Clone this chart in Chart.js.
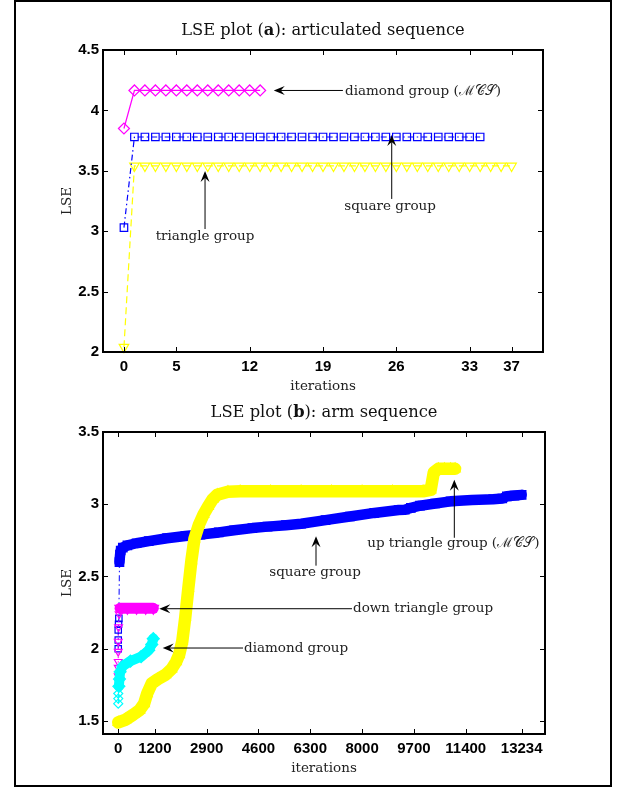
<!DOCTYPE html>
<html>
<head>
<meta charset="utf-8">
<script src="https://cdn.jsdelivr.net/npm/chart.js@4.4.0/dist/chart.umd.min.js"></script>
<style>
  html, body { margin: 0; padding: 0; background: #fff; }
  #page { position: relative; width: 621px; height: 789px; }
  #frame { position: absolute; left: 14px; top: 0; width: 594px; height: 783px; border: 2px solid #000; }
  canvas { position: absolute; left: 0; }
</style>
</head>
<body>
<div id="page">
  <div id="frame"></div>
  <canvas id="chartA" width="621" height="395" style="top:0"></canvas>
  <canvas id="chartB" width="621" height="394" style="top:395px"></canvas>
</div>
<script>
/*---------------DATA (a): articulated sequence-------------------------- */
const diamondIterA = [0, 1, 2, 3, 4, 5, 6, 7, 8, 9, 10, 11, 12, 13];
const diamondLseA  = [3.85, 4.165, 4.165, 4.165, 4.165, 4.165, 4.165, 4.165, 4.165, 4.165, 4.165, 4.165, 4.165, 4.165];
const squareIterA  = [0, 1, 2, 3, 4, 5, 6, 7, 8, 9, 10, 11, 12, 13, 14, 15, 16, 17, 18, 19, 20, 21, 22, 23, 24, 25, 26, 27, 28, 29, 30, 31, 32, 33, 34];
const squareLseA   = [3.03, 3.78, 3.78, 3.78, 3.78, 3.78, 3.78, 3.78, 3.78, 3.78, 3.78, 3.78, 3.78, 3.78, 3.78, 3.78, 3.78, 3.78, 3.78, 3.78, 3.78, 3.78, 3.78, 3.78, 3.78, 3.78, 3.78, 3.78, 3.78, 3.78, 3.78, 3.78, 3.78, 3.78, 3.78];
const triangleIterA = [0, 1, 2, 3, 4, 5, 6, 7, 8, 9, 10, 11, 12, 13, 14, 15, 16, 17, 18, 19, 20, 21, 22, 23, 24, 25, 26, 27, 28, 29, 30, 31, 32, 33, 34, 35, 36, 37];
const triangleLseA  = [2.04, 3.54, 3.54, 3.54, 3.54, 3.54, 3.54, 3.54, 3.54, 3.54, 3.54, 3.54, 3.54, 3.54, 3.54, 3.54, 3.54, 3.54, 3.54, 3.54, 3.54, 3.54, 3.54, 3.54, 3.54, 3.54, 3.54, 3.54, 3.54, 3.54, 3.54, 3.54, 3.54, 3.54, 3.54, 3.54, 3.54, 3.54];
const xTicksA = [0, 5, 12, 19, 26, 33, 37];
const yTicksA = [2, 2.5, 3, 3.5, 4, 4.5];

/*---------------DATA (b): arm sequence-------------------------- */
const upIterB = [0, 250, 500, 700, 850, 950, 1100, 1300, 1550, 1750, 1900, 2000, 2100, 2200, 2300, 2400, 2500, 2650, 2800, 2950, 3100, 3250, 3600, 4000, 5000, 6000, 7000, 8000, 9000, 10000, 10250, 10350, 10500, 10700, 10900, 11050];
const upLseB  = [1.49, 1.51, 1.545, 1.575, 1.62, 1.69, 1.76, 1.79, 1.82, 1.86, 1.91, 1.96, 2.05, 2.22, 2.42, 2.61, 2.76, 2.86, 2.93, 2.985, 3.035, 3.066, 3.087, 3.09, 3.09, 3.09, 3.09, 3.09, 3.09, 3.09, 3.10, 3.22, 3.245, 3.245, 3.245, 3.245];
const squareIterB = [0, 0, 0, 10, 20, 40, 60, 80, 150, 300, 600, 1000, 1600, 2200, 2700, 3300, 3800, 4400, 4900, 5500, 6000, 6800, 7600, 8400, 9200, 9400, 9600, 9900, 10400, 10900, 11600, 12300, 12600, 12750, 13000, 13234];
const squareLseB  = [2.0, 2.06, 2.13, 2.17, 2.21, 2.60, 2.65, 2.68, 2.70, 2.715, 2.73, 2.745, 2.765, 2.78, 2.79, 2.805, 2.82, 2.835, 2.845, 2.855, 2.865, 2.89, 2.915, 2.94, 2.96, 2.962, 2.975, 2.99, 3.005, 3.02, 3.03, 3.035, 3.04, 3.055, 3.06, 3.065];
const downIterB = [0, 0, 0, 0, 0, 10, 30, 60, 300, 600, 900, 1150];
const downLseB  = [1.81, 1.87, 1.91, 1.98, 2.05, 2.15, 2.24, 2.28, 2.28, 2.28, 2.28, 2.28];
const diamondIterB = [0, 0, 0, 20, 40, 60, 150, 400, 750, 1000, 1100, 1150];
const diamondLseB  = [1.62, 1.655, 1.69, 1.74, 1.79, 1.84, 1.88, 1.915, 1.945, 1.99, 2.03, 2.07];
const xTicksB = [0, 1200, 2900, 4600, 6300, 8000, 9700, 11400, 13234];
const yTicksB = [1.5, 2, 2.5, 3, 3.5];

const MCS = '\u2133\uD835\uDC9E\uD835\uDCAE';
const SERIF = '"DejaVu Serif", serif';

function pts(xs, ys) { return xs.map((x, i) => ({ x: x, y: ys[i] })); }

/*---------------PLUGINS-------------------------- */
// matlab style box with inward ticks
const boxPlugin = {
  id: 'box',
  afterDatasetsDraw(chart) {
    const { ctx, chartArea: a, scales: { x, y } } = chart;
    ctx.save();
    ctx.strokeStyle = '#000';
    ctx.lineWidth = 1;
    ctx.beginPath();
    x.ticks.forEach(t => {
      const px = Math.round(x.getPixelForValue(t.value)) + 0.5;
      ctx.moveTo(px, a.top); ctx.lineTo(px, a.top + 5);
      ctx.moveTo(px, a.bottom); ctx.lineTo(px, a.bottom - 5);
    });
    y.ticks.forEach(t => {
      const py = Math.round(y.getPixelForValue(t.value)) + 0.5;
      ctx.moveTo(a.left, py); ctx.lineTo(a.left + 5, py);
      ctx.moveTo(a.right, py); ctx.lineTo(a.right - 5, py);
    });
    ctx.stroke();
    ctx.lineWidth = 2;
    ctx.strokeRect(a.left, a.top, a.right - a.left, a.bottom - a.top);
    ctx.restore();
  }
};

function drawArrow(ctx, x0, y0, x1, y1) {
  const ang = Math.atan2(y1 - y0, x1 - x0);
  const L = 11, W = 4.5, N = 7;
  ctx.beginPath();
  ctx.moveTo(x0, y0);
  ctx.lineTo(x1 - Math.cos(ang) * N, y1 - Math.sin(ang) * N);
  ctx.stroke();
  ctx.save();
  ctx.translate(x1, y1);
  ctx.rotate(ang);
  ctx.beginPath();
  ctx.moveTo(0, 0); ctx.lineTo(-L, -W); ctx.lineTo(-N, 0); ctx.lineTo(-L, W);
  ctx.closePath();
  ctx.fill();
  ctx.restore();
}

// title with bold letter + arrows with notes
function notesPlugin(titleParts, titleY, notes) {
  return {
    id: 'notes',
    afterDraw(chart) {
      const { ctx, chartArea: a, scales: { x, y } } = chart;
      ctx.save();
      ctx.fillStyle = '#111';
      ctx.textBaseline = 'middle';
      // title
      const fonts = titleParts.map(p => (p[1] ? 'bold ' : '') + '16.3px ' + SERIF);
      let total = 0;
      titleParts.forEach((p, i) => { ctx.font = fonts[i]; total += ctx.measureText(p[0]).width; });
      let cx = (a.left + a.right) / 2 - total / 2;
      ctx.textAlign = 'left';
      titleParts.forEach((p, i) => {
        ctx.font = fonts[i];
        ctx.fillText(p[0], cx, titleY);
        cx += ctx.measureText(p[0]).width;
      });
      // notes
      ctx.strokeStyle = '#000';
      ctx.fillStyle = '#000';
      ctx.lineWidth = 1;
      notes.forEach(n => {
        drawArrow(ctx, x.getPixelForValue(n.from[0]), y.getPixelForValue(n.from[1]),
                       x.getPixelForValue(n.to[0]), y.getPixelForValue(n.to[1]));
      });
      ctx.fillStyle = '#222';
      ctx.font = '13.5px ' + SERIF;
      notes.forEach(n => {
        ctx.textAlign = n.align;
        ctx.fillText(n.text, x.getPixelForValue(n.tx), y.getPixelForValue(n.ty));
      });
      ctx.restore();
    }
  };
}

function axes(xMin, xMax, xTicks, yMin, yMax, yTicks, yWidth, xHeight, xTitlePad, yTitlePad) {
  const tickFont = { family: '"Liberation Sans", Arial, sans-serif', size: 15, weight: 'bold' };
  const titleFont = { family: SERIF, size: 13.5 };
  return {
    x: {
      type: 'linear', position: 'bottom', min: xMin, max: xMax,
      grid: { display: false, drawTicks: false },
      border: { display: false },
      afterBuildTicks: s => { s.ticks = xTicks.map(v => ({ value: v })); },
      afterFit: s => { s.height = xHeight; },
      ticks: { autoSkip: false, maxRotation: 0, padding: 6, color: '#000', font: tickFont, callback: v => String(v) },
      title: { display: true, text: 'iterations', color: '#222', font: titleFont, padding: { top: 0, bottom: xTitlePad } }
    },
    y: {
      type: 'linear', min: yMin, max: yMax,
      grid: { display: false, drawTicks: false },
      border: { display: false },
      afterBuildTicks: s => { s.ticks = yTicks.map(v => ({ value: v })); },
      afterFit: s => { s.width = yWidth; },
      ticks: { padding: 4, color: '#000', font: tickFont, callback: v => String(v) },
      title: { display: true, text: 'LSE', color: '#222', font: titleFont, padding: { top: yTitlePad, bottom: 0 } }
    }
  };
}

/*---------------CHART (a)-------------------------- */
new Chart(document.getElementById('chartA'), {
  type: 'line',
  data: {
    datasets: [{
      label: 'diamond group (MCS)',
      data: pts(diamondIterA, diamondLseA),
      borderColor: '#ff00ff', backgroundColor: 'rgba(0,0,0,0)',
      borderWidth: 1.2, pointStyle: 'rectRot', pointRadius: 5.5, pointBorderWidth: 1.2
    }, {
      label: 'square group',
      data: pts(squareIterA, squareLseA),
      borderColor: '#0000ff', backgroundColor: 'rgba(0,0,0,0)',
      borderWidth: 1.2, borderDash: [6, 3, 1.5, 3], pointStyle: 'rect', pointRadius: 5.3, pointBorderWidth: 1.2
    }, {
      label: 'triangle group',
      data: pts(triangleIterA, triangleLseA),
      borderColor: '#ffff00', backgroundColor: 'rgba(0,0,0,0)',
      borderWidth: 1.2, borderDash: [7, 4], pointStyle: 'triangle', pointRotation: 180, pointRadius: 5.5, pointBorderWidth: 1.2
    }]
  },
  options: {
    responsive: false, animation: false, devicePixelRatio: 1,
    layout: { padding: { top: 50, right: 78, bottom: 0, left: 0 } },
    datasets: { line: { clip: false, tension: 0 } },
    plugins: { legend: { display: false }, tooltip: { enabled: false } },
    scales: axes(-2, 40, xTicksA, 2, 4.5, yTicksA, 103, 43, 0, 59)
  },
  plugins: [boxPlugin, notesPlugin(
    [['LSE plot (', false], ['a', true], ['): articulated sequence', false]], 31,
    [
      { text: 'diamond group (' + MCS + ')', tx: 21.1, ty: 4.16, align: 'left', from: [20.9, 4.165], to: [14.3, 4.165] },
      { text: 'square group', tx: 25.4, ty: 3.204, align: 'center', from: [25.56, 3.267], to: [25.56, 3.796] },
      { text: 'triangle group', tx: 7.74, ty: 2.955, align: 'center', from: [7.74, 3.018], to: [7.74, 3.498] }
    ])]
});

/*---------------CHART (b)-------------------------- */
function bandSet(label, xs, ys, color, style, rot, denseFrom, dash, width, order) {
  return {
    label: label, data: pts(xs, ys), order: order,
    borderColor: color, backgroundColor: color,
    borderWidth: 1, borderDash: dash, borderJoinStyle: 'round',
    pointStyle: style, pointRotation: rot, pointBorderWidth: 1.2,
    pointRadius: c => (c.dataIndex >= denseFrom ? 6 : 4.5),
    pointBackgroundColor: c => (c.dataIndex >= denseFrom ? color : 'rgba(0,0,0,0)'),
    segment: {
      borderWidth: c => (c.p0DataIndex >= denseFrom ? width : 1),
      borderDash: c => (c.p0DataIndex >= denseFrom ? [] : dash),
      borderCapStyle: c => (c.p0DataIndex >= denseFrom ? 'round' : 'butt')
    }
  };
}

new Chart(document.getElementById('chartB'), {
  type: 'line',
  data: {
    datasets: [
      bandSet('up triangle group (MCS)', upIterB, upLseB, '#ffff00', 'triangle', 0, 0, [7, 4], 12.5, 0),
      bandSet('diamond group', diamondIterB, diamondLseB, '#00ffff', 'rectRot', 0, 3, [], 10, 1),
      bandSet('down triangle group', downIterB, downLseB, '#ff00ff', 'triangle', 180, 7, [1.5, 3], 11, 2),
      bandSet('square group', squareIterB, squareLseB, '#0000ff', 'rect', 0, 5, [6, 3, 1.5, 3], 10.5, 3)
    ]
  },
  options: {
    responsive: false, animation: false, devicePixelRatio: 1,
    layout: { padding: { top: 37, right: 76, bottom: 0, left: 0 } },
    datasets: { line: { clip: false, tension: 0 } },
    plugins: { legend: { display: false }, tooltip: { enabled: false } },
    scales: axes(-500, 14000, xTicksB, 1.41, 3.5, yTicksB, 103, 55, 12, 59)
  },
  plugins: [boxPlugin, notesPlugin(
    [['LSE plot (', false], ['b', true], ['): arm sequence', false]], 18,
    [
      { text: 'up triangle group (' + MCS + ')', tx: 10992, ty: 2.725, align: 'center', from: [11025, 2.768], to: [11025, 3.17] },
      { text: 'square group', tx: 6455, ty: 2.53, align: 'center', from: [6488, 2.575], to: [6488, 2.778] },
      { text: 'down triangle group', tx: 7701, ty: 2.277, align: 'left', from: [7668, 2.277], to: [1347, 2.277] },
      { text: 'diamond group', tx: 4126, ty: 2.005, align: 'left', from: [4093, 2.005], to: [1458, 2.005] }
    ])]
});
</script>
</body>
</html>
